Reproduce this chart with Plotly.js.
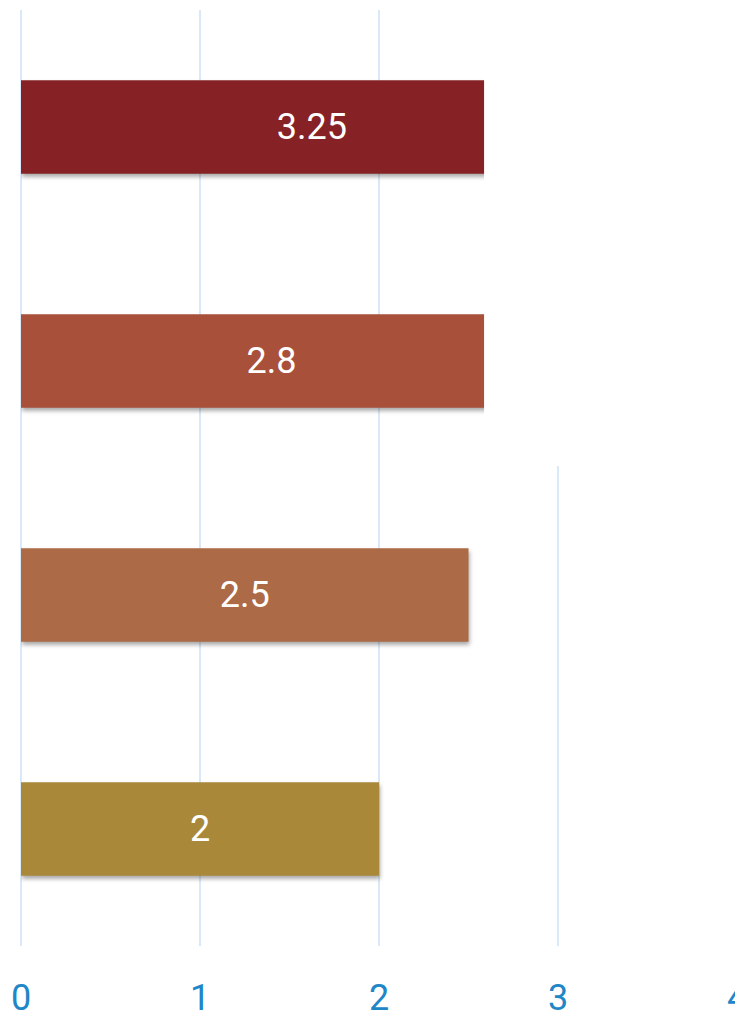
<!DOCTYPE html>
<html>
<head>
<meta charset="utf-8">
<script src="https://cdn.plot.ly/plotly-3.0.1.min.js"></script>
<style>
  html, body { margin: 0; padding: 0; overflow: hidden; background: #fff; }
  #chart { width: 760px; height: 1016px; }
  .barlayer .point path { filter: drop-shadow(1px 3px 2px rgba(0,0,0,0.35)); }
</style>
</head>
<body>
<div id="chart"></div>
<script>
const categories = ["A", "B", "C", "D"];
const values = [3.25, 2.8, 2.5, 2];
const barColors = ["#862225", "#A9503B", "#AD6A46", "#AA8839"];
const tickValues = [0, 1, 2, 3, 4];
const tickLabels = ["0", "1", "2", "3", "4"];

const trace = {
  type: "bar",
  orientation: "h",
  x: values,
  y: categories,
  marker: { color: barColors },
  width: 0.4,
  text: values.map(String),
  textposition: "inside",
  insidetextanchor: "middle",
  textfont: { family: "Roboto", size: 36, color: "#ffffff" },
  hoverinfo: "none",
  cliponaxis: false
};

const layout = {
  width: 760,
  height: 1016,
  margin: { l: 21, r: 23, t: 10, b: 70 },
  paper_bgcolor: "#ffffff",
  plot_bgcolor: "#ffffff",
  showlegend: false,
  xaxis: {
    range: [0, 4],
    tickvals: tickValues,
    ticktext: tickLabels,
    showgrid: true,
    gridcolor: "#dae9f7",
    gridwidth: 1.5,
    zeroline: true,
    zerolinecolor: "#dae9f7",
    zerolinewidth: 1.5,
    showline: false,
    ticks: "",
    ticklabelstandoff: 27,
    tickfont: { family: "Roboto", size: 36, color: "#1f86c8" },
    fixedrange: true
  },
  yaxis: {
    type: "category",
    categoryorder: "array",
    categoryarray: categories,
    autorange: "reversed",
    showticklabels: false,
    showgrid: false,
    zeroline: false,
    ticks: "",
    fixedrange: true
  },
  shapes: [{
    type: "rect",
    layer: "above",
    xref: "x", yref: "paper",
    x0: 2.587, x1: 4.2,
    y0: 0.5128, y1: 1.05,
    fillcolor: "#ffffff",
    line: { width: 0 }
  }]
};

Plotly.newPlot("chart", [trace], layout, { displayModeBar: false, staticPlot: true });
</script>
</body>
</html>
